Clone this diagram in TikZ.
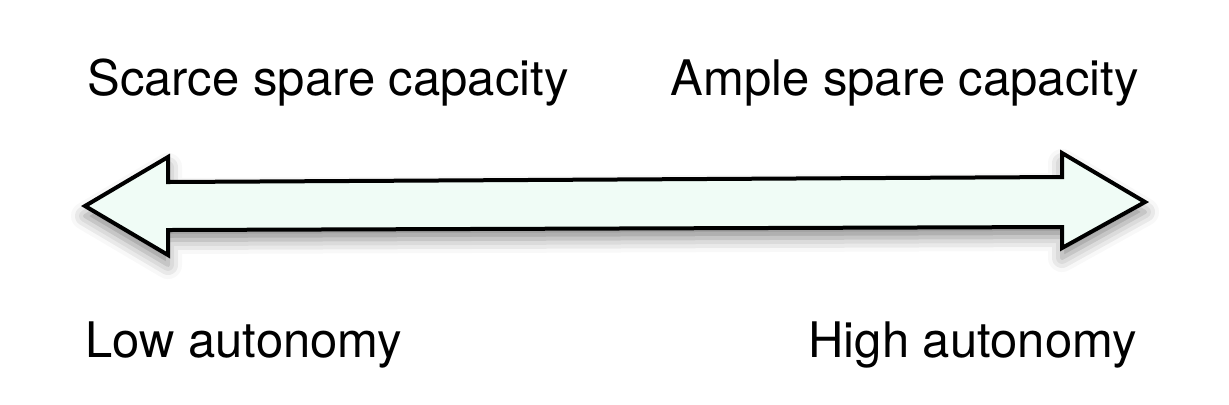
\documentclass[tikz,border=0pt]{standalone}
\usepackage{fontspec}
\setmainfont{TeX Gyre Heros}
\usetikzlibrary{shadows.blur}
\definecolor{mintcream}{RGB}{240,252,246}
\tikzset{
  label/.style={inner sep=0pt, font=\fontsize{24.5}{29}\selectfont},
  bigarrow/.style={draw=black, line width=2pt, fill=mintcream,
    blur shadow={shadow xshift=0pt, shadow yshift=-5pt, shadow blur radius=7pt, shadow opacity=45}}
}
\begin{document}
\begin{tikzpicture}[x=0.5pt, y=-0.5pt]
\useasboundingbox (0,0) rectangle (1229,404);
%the double arrow
\draw [bigarrow] (85,206) -- (168,157) -- (168,182) -- (1062,177) -- (1062,153)
  -- (1145,202) -- (1062,248) -- (1062,227) -- (168,230) -- (168,255) -- cycle;
%the labels
\node [label, anchor=base west] (scarce) at (87,95) {Scarce spare capacity};
\node [label, anchor=base east] (ample) at (1139,95) {Ample spare capacity};
\node [label, anchor=base west] (low) at (85,357) {Low autonomy};
\node [label, anchor=base east] (high) at (1137,357) {High autonomy};
\end{tikzpicture}
\end{document}
